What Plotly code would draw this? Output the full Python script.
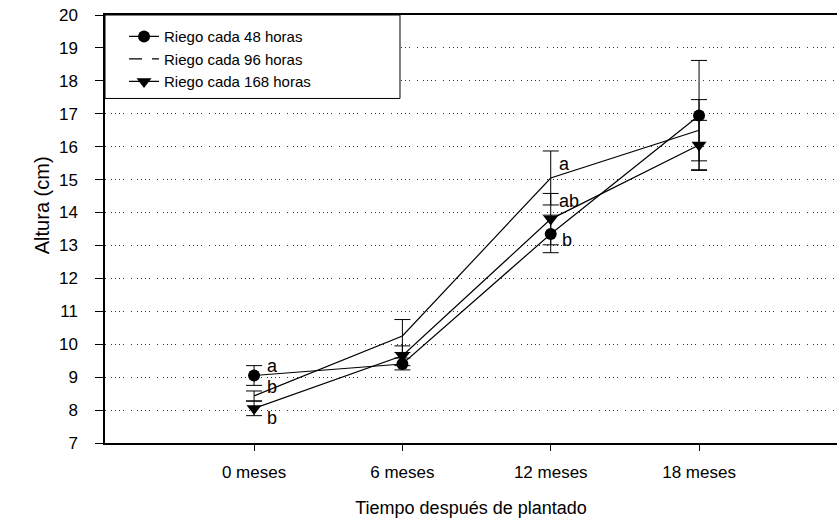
import plotly.graph_objects as go

# datos
categorias = ['0 meses', '6 meses', '12 meses', '18 meses']
riego_48 = [9.05, 9.40, 13.35, 16.95]
err_48 = [0.30, 0.18, 0.57, 1.67]
riego_96 = [8.43, 10.25, 15.05, 16.50]
err_96 = [0.15, 0.50, 0.82, 0.93]
riego_168 = [8.05, 9.65, 13.80, 16.05]
err_168 = [0.22, 0.30, 0.78, 0.75]

series = ['Riego cada 48 horas', 'Riego cada 96 horas', 'Riego cada 168 horas']

# letras de significancia: (serie, categoria, letra)
letras = [
    (0, 0, 'a'), (1, 0, 'b'), (2, 0, 'b'),
    (1, 2, 'a'), (2, 2, 'ab'), (0, 2, 'b'),
]

FONT = 'Liberation Sans, Arial, sans-serif'
xs = list(range(len(categorias)))
valores = [riego_48, riego_96, riego_168]

fig = go.Figure()

def err(a):
    return dict(type='data', array=a, visible=True, color='black', thickness=1, width=8)

fig.add_scatter(x=xs, y=riego_48, name=series[0], mode='lines+markers',
                line=dict(color='black', width=1.2),
                marker=dict(symbol='circle', size=12, color='black'),
                error_y=err(err_48))
# la serie de 96 h se ve continua en el grafico, discontinua en la leyenda
fig.add_scatter(x=xs, y=riego_96, name=series[1], mode='lines', showlegend=False,
                line=dict(color='black', width=1.2),
                error_y=err(err_96))
fig.add_scatter(x=[None], y=[None], name=series[1], mode='lines',
                line=dict(color='black', width=1.2, dash='13px,10px'))
fig.add_scatter(x=xs, y=riego_168, name=series[2], mode='lines+markers',
                line=dict(color='black', width=1.2),
                marker=dict(symbol='triangle-down', size=13, color='black'),
                error_y=err(err_168))

# desplazamientos en pixeles de cada letra respecto a su punto
desp = {(0, 0): (11, 10), (1, 0): (11, 9), (2, 0): (11, -10),
        (1, 2): (6, 14), (2, 2): (6, 18), (0, 2): (9, -6)}
for s, c, letra in letras:
    dx, dy = desp[(s, c)]
    fig.add_annotation(x=xs[c], y=valores[s][c], text=letra, showarrow=False,
                       xanchor='left', yanchor='middle', xshift=dx, yshift=dy,
                       font=dict(family=FONT, size=18, color='black'))

# titulo del eje y (algo por encima del centro, como en el original)
fig.add_annotation(xref='paper', yref='paper', x=-0.085, y=0.555, text='Altura (cm)',
                   textangle=-90, showarrow=False, xanchor='center', yanchor='middle',
                   font=dict(family=FONT, size=20, color='black'))

# caja de la leyenda
fig.add_shape(type='rect', xref='paper', yref='paper', x0=0, x1=0.403, y0=0.805, y1=1,
              line=dict(color='black', width=1), fillcolor='white', layer='above')

fig.update_layout(
    width=837, height=521,
    margin=dict(l=105, r=0, t=15, b=78),
    plot_bgcolor='white', paper_bgcolor='white',
    font=dict(family=FONT, size=17, color='black'),
    showlegend=True,
    legend=dict(x=0.026, y=0.988, xanchor='left', yanchor='top',
                bgcolor='rgba(0,0,0,0)', borderwidth=0,
                font=dict(family=FONT, size=15), tracegroupgap=0),
    xaxis=dict(range=[-1.005, 3.93], tickvals=xs, ticktext=categorias,
               showline=True, linecolor='black', linewidth=1.5, mirror=True,
               ticks='outside', ticklen=6, tickcolor='black',
               showgrid=False, zeroline=False, ticklabelstandoff=7,
               tickfont=dict(size=17),
               title=dict(text='Tiempo después de plantado', standoff=20,
                          font=dict(size=18))),
    yaxis=dict(range=[7, 20], dtick=1, tick0=7,
               showline=True, linecolor='black', linewidth=1.5,
               ticks='outside', ticklen=8, tickcolor='black',
               showgrid=True, gridcolor='#333', gridwidth=1,
               griddash='1px,5px,1px,3px,1px,3px,1px,3px,1px,7px',
               zeroline=False, ticklabelstandoff=14,
               tickfont=dict(size=17)),
)

fig.write_html('out.html', config={'displayModeBar': False},
               post_script="document.body.style.margin='0';")
